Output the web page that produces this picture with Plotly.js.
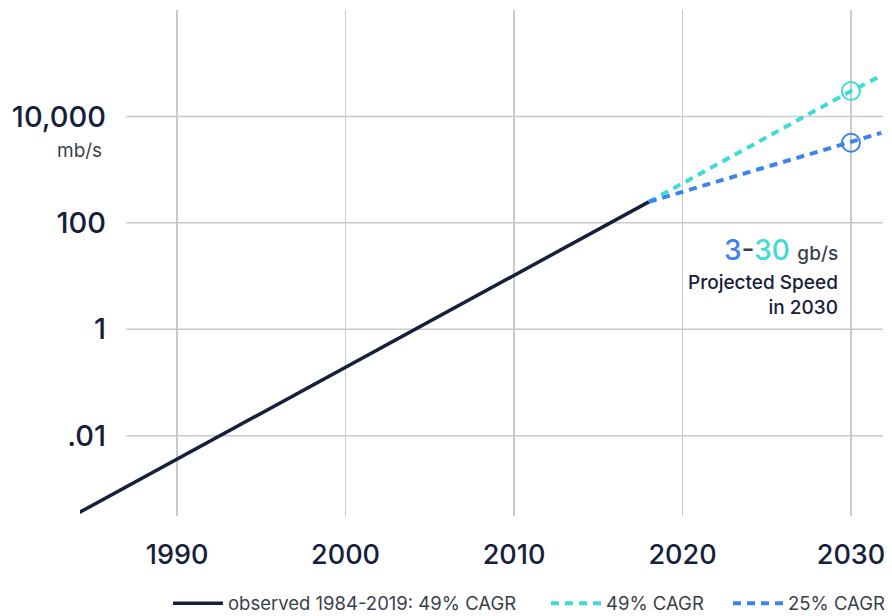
<!DOCTYPE html>
<html>
<head>
<meta charset="utf-8">
<script src="https://cdn.plot.ly/plotly-3.0.1.min.js"></script>
<style>
  html, body { margin: 0; padding: 0; background: #ffffff; }
  #chart { width: 892px; height: 616px; }
</style>
</head>
<body>
<div id="chart"></div>
<script>
// ---- data ----
const observedYears = [1984.2, 2018];
const observedSpeed = [0.00036, 248];          // mb/s
const projYears = [2018, 2030, 2031.8];
const fastSpeed = [248, 30000, 58000];         // 49% CAGR
const slowSpeed = [248, 3200, 4900];           // 25% CAGR
const markYear = [2030];
const fastMark = [30000];
const slowMark = [3200];
const xTicks = [1990, 2000, 2010, 2020, 2030];
const yTicks = [0.01, 1, 100, 10000];
const yTickText = ['.01', '1', '100', '10,000'];
const names = ['observed 1984-2019: 49% CAGR', '49% CAGR', '25% CAGR'];

const navy = '#16203a';
const cyan = '#3fdbd6';
const blue = '#3d82ee';
const grid = '#c9c9ce';
const legendGray = '#3a3f4c';
const FONT = 'Inter, "Noto Sans", sans-serif';

const traces = [
  { x: observedYears, y: observedSpeed, mode: 'lines', name: names[0], legend: 'legend',
    line: { color: navy, width: 3.5 } },
  { x: projYears, y: fastSpeed, mode: 'lines', name: names[1], legend: 'legend2',
    line: { color: cyan, width: 4, dash: '8px,6px' } },
  { x: projYears, y: slowSpeed, mode: 'lines', name: names[2], legend: 'legend3',
    line: { color: blue, width: 4, dash: '8px,6px' } },
  { x: markYear, y: fastMark, yaxis: 'y2', mode: 'markers', showlegend: false, hoverinfo: 'skip',
    marker: { symbol: 'circle-open', size: 18, color: cyan, line: { width: 2, color: cyan } } },
  { x: markYear, y: slowMark, yaxis: 'y2', mode: 'markers', showlegend: false, hoverinfo: 'skip',
    marker: { symbol: 'circle-open', size: 18, color: blue, line: { width: 2, color: blue } } }
];

const gridShapes = yTicks.map(v => ({
  type: 'line', xref: 'x', yref: 'y', x0: 1987, x1: 2040, y0: v, y1: v,
  layer: 'below', line: { color: grid, width: 1.5 }
}));

function legendAt(px) {
  return {
    orientation: 'h', xref: 'container', yref: 'container',
    x: px / 892, xanchor: 'left', y: 0.02, yanchor: 'middle',
    font: { family: FONT, size: 18.5, color: legendGray },
    itemwidth: 50, bgcolor: 'rgba(0,0,0,0)'
  };
}

const layout = {
  width: 892, height: 616,
  margin: { l: 80, r: 9, t: 10, b: 100 },
  paper_bgcolor: '#ffffff', plot_bgcolor: '#ffffff',
  font: { family: FONT, color: navy },
  showlegend: true,
  legend: legendAt(168),
  legend2: legendAt(546),
  legend3: legendAt(728),
  xaxis: {
    range: [1984.24, 2031.9], tickvals: xTicks, ticktext: xTicks.map(String),
    showgrid: true, gridcolor: grid, gridwidth: 1.5, zeroline: false, showline: false,
    ticks: '', ticklabelstandoff: 20,
    tickfont: { family: FONT, size: 27, color: navy, weight: 500 }
  },
  yaxis: {
    type: 'log', range: [-3.51, 6.0], showgrid: false, zeroline: false,
    showline: false, showticklabels: false, ticks: ''
  },
  yaxis2: {
    type: 'log', range: [-3.51, 6.0], overlaying: 'y', anchor: 'free',
    position: 47 / 803, side: 'left', showgrid: false, zeroline: false, showline: false,
    ticks: '', tickvals: yTicks, ticktext: yTickText, ticklabelstandoff: 21,
    tickfont: { family: FONT, size: 29, color: navy, weight: 500 }
  },
  shapes: gridShapes,
  annotations: [
    { xref: 'paper', yref: 'paper', x: (104 - 80) / 803, y: (516 - 151) / 506,
      xanchor: 'right', yanchor: 'middle', showarrow: false,
      text: 'mb/s', font: { family: FONT, size: 19, color: legendGray } },
    { xref: 'paper', yref: 'paper', x: (840 - 80) / 803, y: (516 - 250) / 506,
      xanchor: 'right', yanchor: 'middle', showarrow: false,
      text: '<span style="color:' + blue + '">3</span><span style="color:' + legendGray + '">-</span><span style="color:' + cyan + '">30</span> <span style="font-size:19px;color:' + legendGray + '">gb/s</span>',
      font: { family: FONT, size: 28, color: navy, weight: 500 } },
    { xref: 'paper', yref: 'paper', x: (840 - 80) / 803, y: (516 - 295) / 506,
      xanchor: 'right', yanchor: 'middle', showarrow: false, align: 'right',
      text: 'Projected Speed<br>in 2030',
      font: { family: FONT, size: 19, color: navy, weight: 500 } }
  ]
};

Plotly.newPlot('chart', traces, layout, { displayModeBar: false, staticPlot: true });
</script>
</body>
</html>
